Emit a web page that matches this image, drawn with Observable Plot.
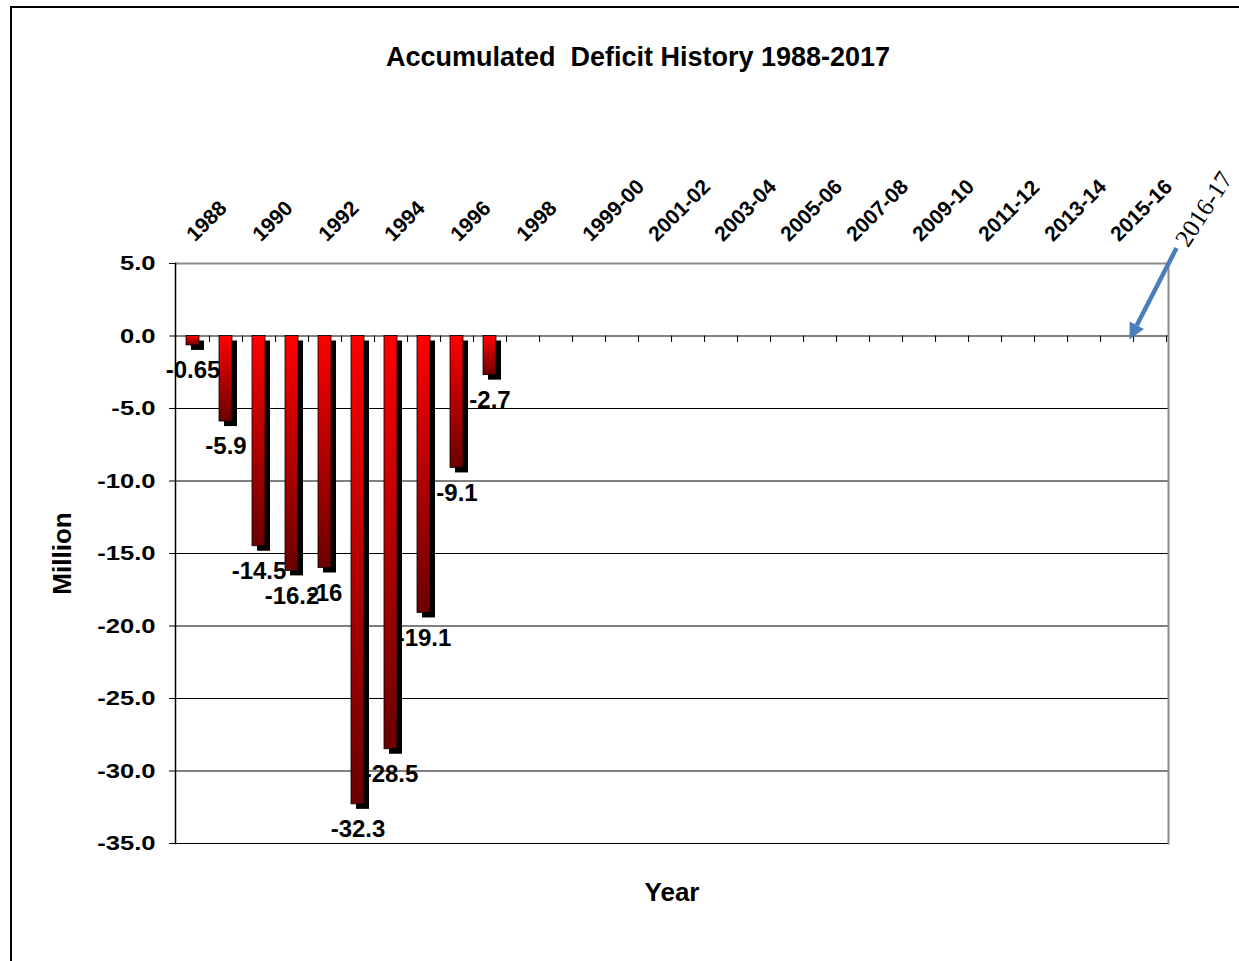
<!DOCTYPE html>
<html><head><meta charset="utf-8">
<script src="https://cdn.jsdelivr.net/npm/d3@7"></script>
<script src="https://cdn.jsdelivr.net/npm/@observablehq/plot@0.6"></script>
<style>
body{margin:0;background:#fff;}
#wrap{position:relative;width:1239px;height:961px;overflow:hidden;}
#border{position:absolute;left:10px;top:6px;right:-10px;bottom:-10px;border-left:2px solid #000;border-top:2px solid #000;pointer-events:none;}
#chart svg{display:block;}
</style></head><body><div id="wrap"><div id="chart"></div><div id="border"></div></div>
<script>
// Categories (fiscal years)
const years = ["1988","1989","1990","1991","1992","1993","1994","1995","1996","1997","1998",
  "1998-99","1999-00","2000-01","2001-02","2002-03","2003-04","2004-05","2005-06","2006-07",
  "2007-08","2008-09","2009-10","2010-11","2011-12","2012-13","2013-14","2014-15","2015-16","2016-17"];
// Accumulated deficit values (million) for the years that have bars
const barYears = ["1988","1989","1990","1991","1992","1993","1994","1995","1996","1997"];
const deficits = [-0.65, -5.9, -14.5, -16.2, -16, -32.3, -28.5, -19.1, -9.1, -2.7];
// Tick labels shown along the top
const topTickLabels = years.filter((d, i) => i % 2 === 0 && i < years.length - 1);
const yTicks = [5, 0, -5, -10, -15, -20, -25, -30, -35];
const annotationLabel = "2016-17";

const data = barYears.map((year, i) => ({year, value: deficits[i]}));
const font = "'Liberation Sans', Arial, sans-serif";

const chart = Plot.plot({
  width: 1239, height: 961,
  marginLeft: 175, marginRight: 71, marginTop: 263, marginBottom: 118,
  x: {type: "band", domain: years, paddingInner: 0.6, paddingOuter: 0.3, axis: null},
  y: {domain: [-35, 5], axis: null},
  style: {fontFamily: font, background: "transparent", color: "#000", overflow: "visible"},
  marks: [
    Plot.ruleY(yTicks.filter(d => d < 5), {stroke: "#000", strokeWidth: 1}),
    Plot.ruleY([5], {stroke: "#8c8c8c", strokeWidth: 2}),
    Plot.frame({anchor: "right", stroke: "#8c8c8c", strokeWidth: 2}),
    Plot.frame({anchor: "left", stroke: "#000", strokeWidth: 1.5}),
    Plot.axisY({ticks: yTicks, tickFormat: d => d.toFixed(1), tickSize: 6, tickPadding: 14,
      fontSize: 21, fontWeight: "bold", label: null, stroke: "#000"}),
    Plot.ruleX(years, {x: d => d, y1: 0, y2: -0.45, dx: 33.1 / 2, stroke: "#000"}),
    Plot.barY(data, {x: "year", y: "value", fill: "#000", dx: 5, dy: 5}),
    Plot.barY(data, {x: "year", y: "value", fill: "url(#barGrad)", stroke: "#000", strokeWidth: 0.8}),
    Plot.text(data, {x: "year", y: "value", text: d => String(d.value), dy: 25,
      fontSize: 24, fontWeight: "bold", fill: "#000"}),
    Plot.text(topTickLabels, {x: d => d, frameAnchor: "top", dy: -21, dx: 2, rotate: -45,
      textAnchor: "start", lineAnchor: "bottom", fontSize: 21, fontWeight: "bold", fill: "#000"}),
    Plot.text([annotationLabel], {x: d => d, frameAnchor: "top", dy: -15, dx: 38, rotate: -57,
      textAnchor: "start", lineAnchor: "bottom", fontSize: 25, fontFamily: "'Liberation Serif', 'Times New Roman', serif", fill: "#000"}),
    Plot.text(["Accumulated\u00a0 Deficit History 1988-2017"], {frameAnchor: "top", dy: -207 - 10, dx: -34,
      fontSize: 27, fontWeight: "bold", fill: "#000"}),
    Plot.text(["Million"], {frameAnchor: "left", dx: -113, rotate: -90, textAnchor: "middle",
      fontSize: 26, fontWeight: "bold", fill: "#000"}),
    Plot.text(["Year"], {frameAnchor: "bottom", dy: 57, fontSize: 26, fontWeight: "bold", fill: "#000"})
  ]
});

const svg = d3.select(chart);
const defs = svg.insert("defs", ":first-child");
const grad = defs.append("linearGradient").attr("id", "barGrad")
  .attr("x1", 0).attr("y1", 0).attr("x2", 0).attr("y2", 1);
grad.append("stop").attr("offset", "0%").attr("stop-color", "#ff0000");
grad.append("stop").attr("offset", "100%").attr("stop-color", "#6a0000");

// stretch y tick labels horizontally like the reference
svg.selectAll('g[aria-label="y-axis tick label"] text').each(function() {
  const t = this.getAttribute("transform") || "";
  this.setAttribute("transform", t + " scale(1.22,1)");
});

// annotation arrow
const xs = chart.scale("x"), ys = chart.scale("y");
const cx = xs.apply(annotationLabel) + xs.bandwidth / 2;
const sx = cx + 27, sy = ys.apply(5) - 15;
const tx = cx - 20, ty = ys.apply(0) + 4;
const ang = Math.atan2(ty - sy, tx - sx);
const headLen = 16, headW = 8;
const bx = tx - headLen * Math.cos(ang), by = ty - headLen * Math.sin(ang);
const arrow = svg.append("g");
arrow.append("line").attr("x1", sx).attr("y1", sy).attr("x2", bx).attr("y2", by)
  .attr("stroke", "#4a7ebb").attr("stroke-width", 4.5);
arrow.append("path").attr("fill", "#4a7ebb").attr("d",
  `M${tx},${ty}L${bx + headW * Math.sin(ang)},${by - headW * Math.cos(ang)}L${bx - headW * Math.sin(ang)},${by + headW * Math.cos(ang)}Z`);

document.getElementById("chart").append(chart);
</script></body></html>
